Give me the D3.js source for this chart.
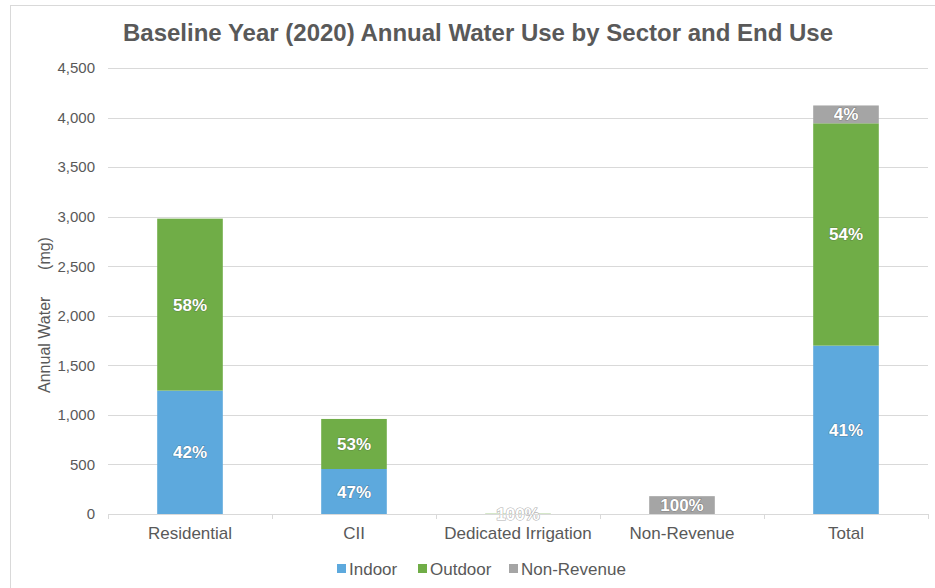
<!doctype html>
<html lang="en">
<head>
<meta charset="utf-8">
<title>Baseline Year Water Use</title>
<script src="https://d3js.org/d3.v7.min.js"></script>
<style>
  body { margin: 0; background: #fff; font-family: "Liberation Sans", Arial, sans-serif; }
  .tick text { fill: #595959; font-size: 15px; }
  .barlabel { fill: #fff; font-weight: bold; font-size: 17px; paint-order: stroke; stroke: rgba(60,60,60,0.35); stroke-width: 1.2px; }
</style>
</head>
<body>
<svg id="chart" width="935" height="588"></svg>
<script>
// data (million gallons)
var sectors  = ["Residential", "CII", "Dedicated Irrigation", "Non-Revenue", "Total"];
var indoor   = [1245, 454, 0, 0, 1699];
var outdoor  = [1735, 505, 3, 0, 2243];
var nonRev   = [0, 0, 0, 180, 180];
var series   = ["Indoor", "Outdoor", "Non-Revenue"];
var colors   = ["#5DA9DD", "#70AD47", "#A5A5A5"];
var yTicks   = [0, 500, 1000, 1500, 2000, 2500, 3000, 3500, 4000, 4500];

var width = 935, height = 588;
var margin = {left: 108, right: 7, top: 68, bottom: 74};

var svg = d3.select("#chart");

// chart border
svg.append("rect").attr("x", 10.5).attr("y", 5.5).attr("width", 940).attr("height", 600)
  .attr("fill", "none").attr("stroke", "#d9d9d9");

svg.append("text").attr("x", 478).attr("y", 41).attr("text-anchor", "middle")
  .style("font-size", "24px").style("font-weight", "bold").style("fill", "#595959")
  .text("Baseline Year (2020) Annual Water Use by Sector and End Use");

var x = d3.scaleBand().domain(sectors).range([margin.left, width - margin.right]).paddingInner(0.6).paddingOuter(0.3);
var xb = d3.scaleBand().domain(sectors).range([margin.left, width - margin.right]);
var y = d3.scaleLinear().domain([0, 4500]).range([height - margin.bottom, margin.top]);

// gridlines
svg.append("g").selectAll("line").data(yTicks.slice(1)).enter().append("line")
  .attr("x1", margin.left).attr("x2", width - margin.right)
  .attr("y1", function(d) { return Math.round(y(d)) + 0.5; })
  .attr("y2", function(d) { return Math.round(y(d)) + 0.5; })
  .attr("stroke", "#d9d9d9");

var yAxis = svg.append("g").attr("transform", "translate(" + margin.left + ",0)")
  .call(d3.axisLeft(y).tickValues(yTicks).tickFormat(d3.format(",")).tickSize(0).tickPadding(13));
yAxis.select(".domain").remove();

svg.append("text").attr("transform", "translate(50,315) rotate(-90)").attr("text-anchor", "middle")
  .style("font-size", "16px").style("fill", "#595959").attr("xml:space", "preserve")
  .text("Annual Water      (mg)");

// stacked bars
var rows = sectors.map(function(s, i) {
  return {sector: s, Indoor: indoor[i], Outdoor: outdoor[i], "Non-Revenue": nonRev[i]};
});
var stack = d3.stack().keys(series)(rows);

stack.forEach(function(layer, k) {
  svg.append("g").selectAll("rect").data(layer).enter().append("rect")
    .attr("x", function(d) { return x(d.data.sector); })
    .attr("width", x.bandwidth())
    .attr("y", function(d) { return y(d[1]); })
    .attr("height", function(d) { return y(d[0]) - y(d[1]); })
    .attr("fill", colors[k]);
});

// percent labels
stack.forEach(function(layer, k) {
  svg.append("g").selectAll("text").data(layer.filter(function(d) { return d[1] - d[0] > 0; }))
    .enter().append("text").attr("class", "barlabel")
    .attr("x", function(d) { return x(d.data.sector) + x.bandwidth() / 2; })
    .attr("y", function(d) { return (y(d[0]) + y(d[1])) / 2 + 6; })
    .attr("text-anchor", "middle")
    .style("stroke", function(d) { return d.data.sector == "Dedicated Irrigation" ? "#b0b0b0" : null; })
    .text(function(d) {
      var tot = d.data.Indoor + d.data.Outdoor + d.data["Non-Revenue"];
      return Math.round((d[1] - d[0]) / tot * 100) + "%";
    });
});

// x axis
var xAxis = svg.append("g").attr("transform", "translate(0," + (height - margin.bottom) + ")")
  .call(d3.axisBottom(xb).tickSize(0).tickPadding(12));
xAxis.select(".domain").attr("stroke", "#d9d9d9").attr("d", "M" + margin.left + ",0.5H" + (width - margin.right));
xAxis.selectAll(".bound").data(d3.range(sectors.length + 1)).enter().append("line")
  .attr("x1", function(i) { return margin.left + i * xb.bandwidth() + 0.5; })
  .attr("x2", function(i) { return margin.left + i * xb.bandwidth() + 0.5; })
  .attr("y1", 0).attr("y2", 5).attr("stroke", "#d9d9d9");
xAxis.selectAll(".tick text").attr("dy", "0.75em").style("font-size", "17px");

// legend
var legX = [337, 418, 509];
var legend = svg.append("g").selectAll("g").data(series).enter().append("g")
  .attr("transform", function(d, i) { return "translate(" + legX[i] + ",564)"; });
legend.append("rect").attr("width", 9).attr("height", 9).attr("fill", function(d, i) { return colors[i]; });
legend.append("text").attr("x", 12).attr("y", 10.5).style("font-size", "17px").style("fill", "#595959")
  .text(function(d) { return d; });
</script>
</body>
</html>
